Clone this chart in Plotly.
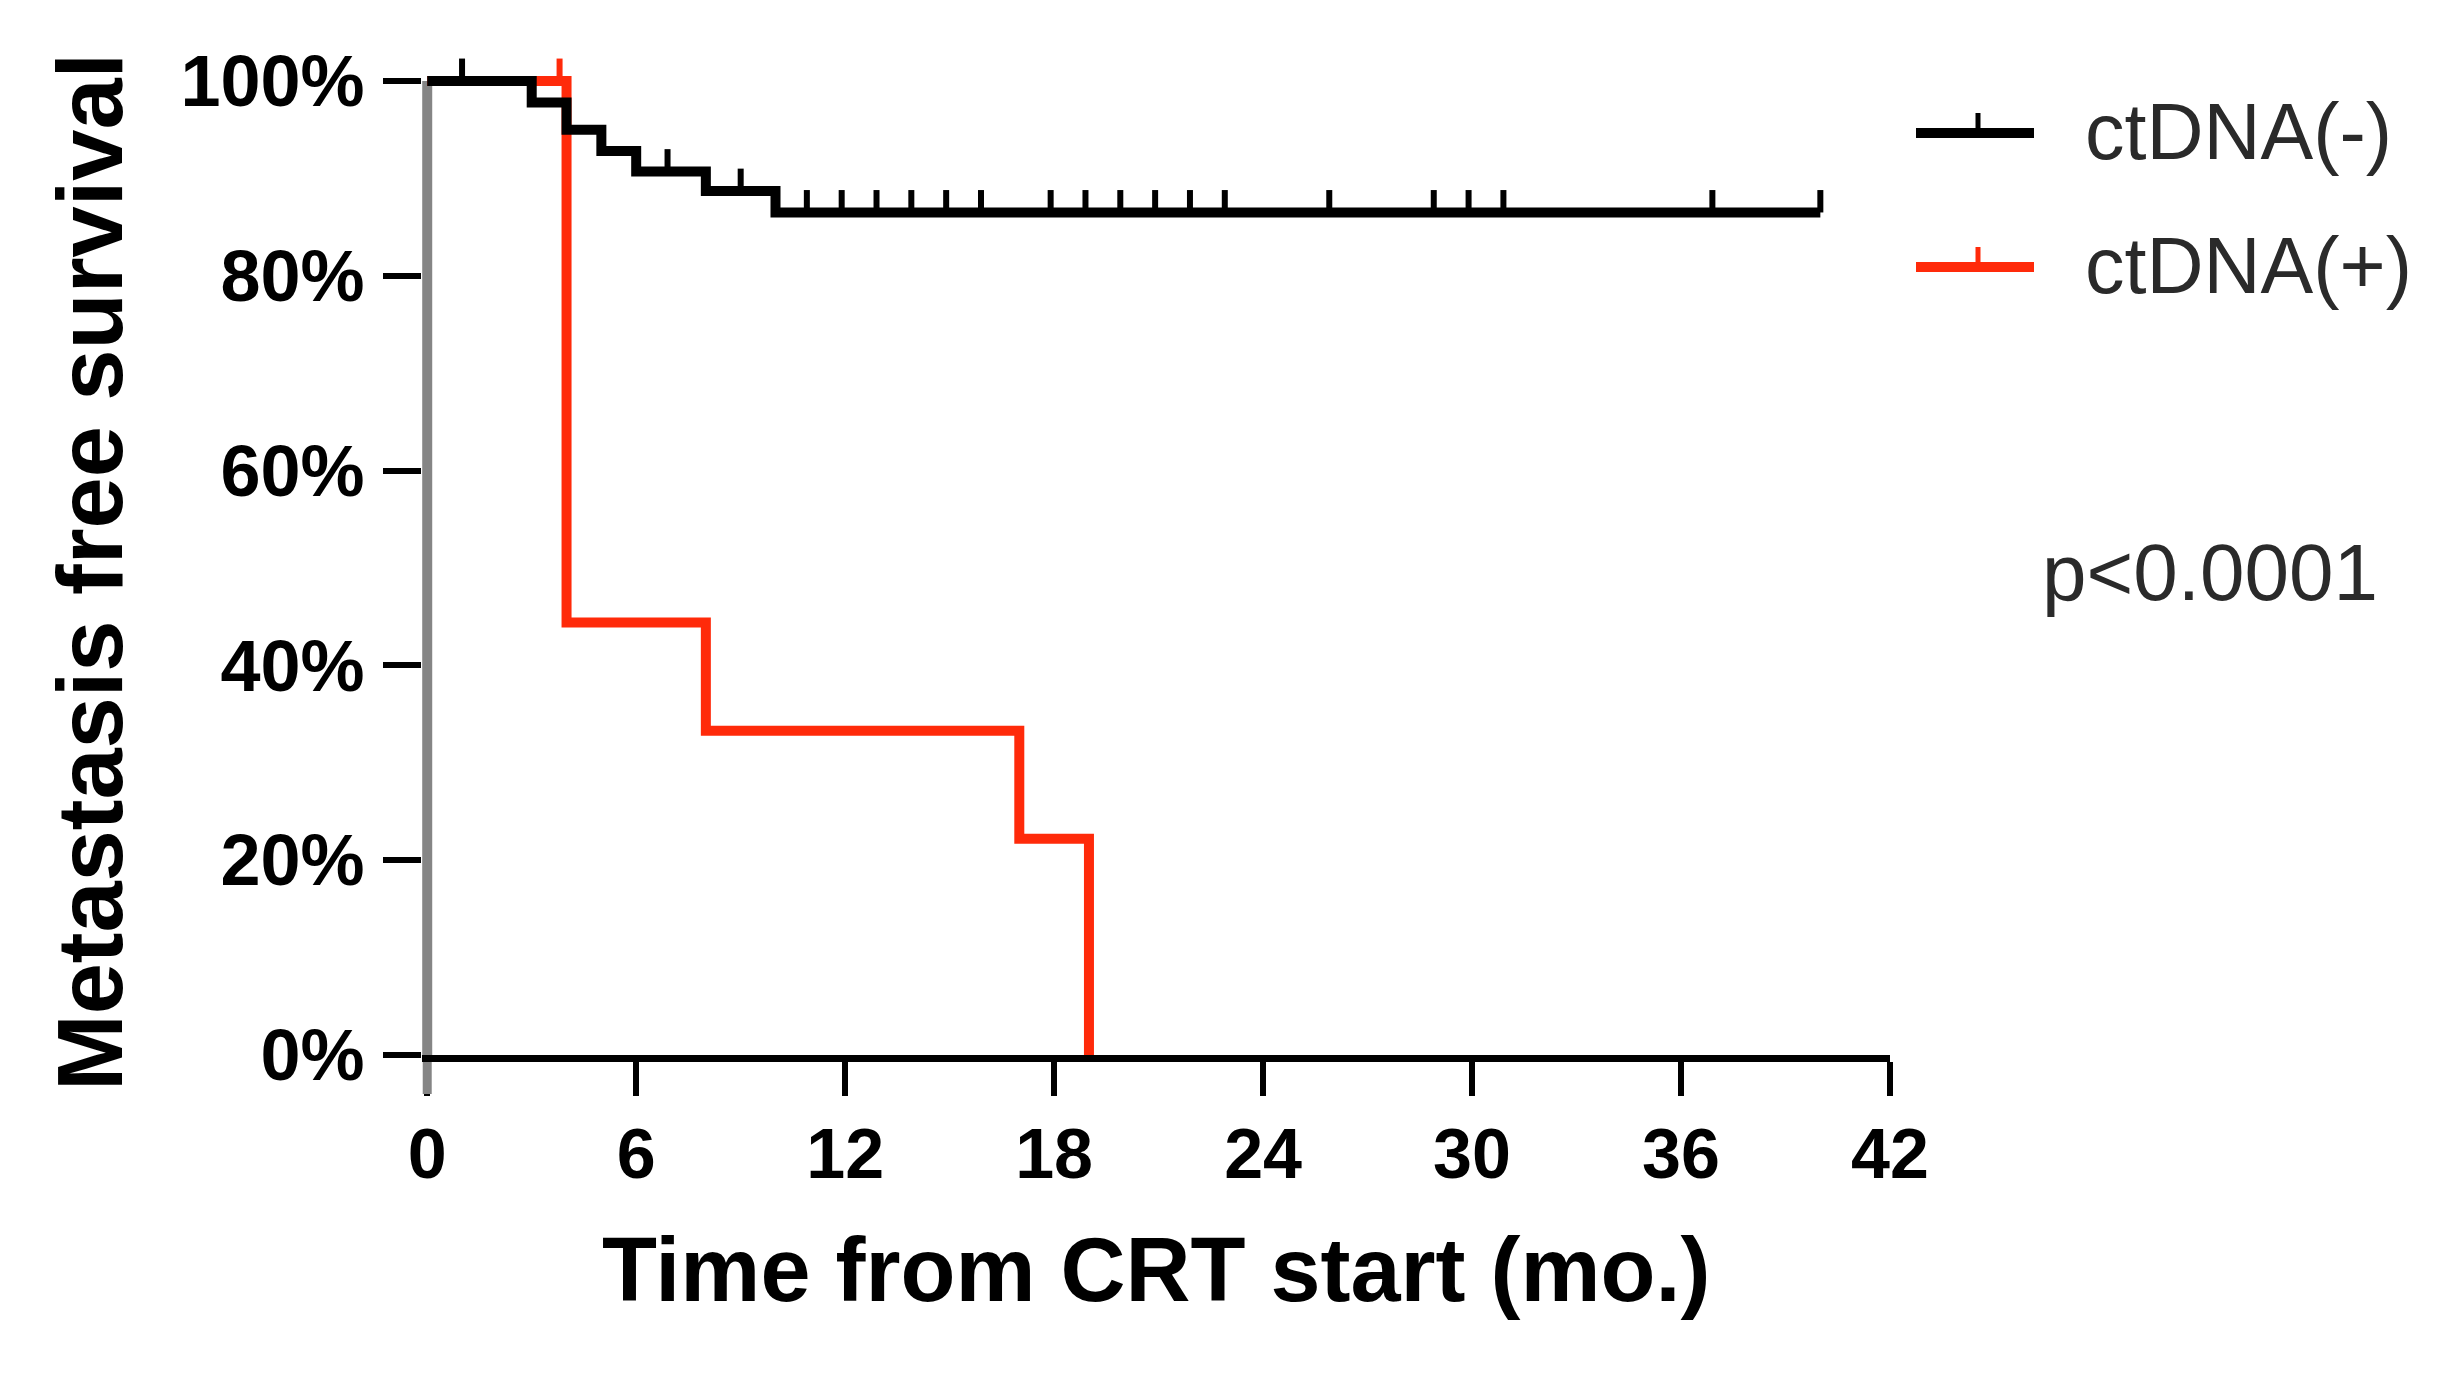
import numpy as np
import plotly.graph_objects as go

# ---------------- data ----------------
neg_name = "ctDNA(-)"
neg_time = [0, 3, 4, 5, 6, 8, 10, 40]
neg_surv = [100, 97.8, 95.0, 92.8, 90.7, 88.7, 86.5, 86.5]
neg_censor = [1.0, 6.9, 9.0, 10.9, 11.9, 12.9, 13.9, 14.9, 15.9, 17.9, 18.9,
              19.9, 20.9, 21.9, 22.9, 25.9, 28.9, 29.9, 30.9, 36.9, 40.0]

pos_name = "ctDNA(+)"
pos_time = [0, 4, 8, 17, 19]
pos_surv = [100, 44.4, 33.3, 22.2, 0]
pos_censor = [3.8]

x_ticks = [0, 6, 12, 18, 24, 30, 36, 42]
y_ticks = [0, 20, 40, 60, 80, 100]
y_tick_labels = ["0%", "20%", "40%", "60%", "80%", "100%"]
p_text = "p<0.0001"
x_title = "Time from CRT start (mo.)"
y_title = "Metastasis free survival"

# ---------------- styling / geometry ----------------
W, H = 2440, 1373
OFF = 8  # page body margin offset
# target page-pixel geometry of the plot area
PL, PR, PT, PB = 422, 1890, 42, 1055
L, R, T, B = PL - OFF, PR - OFF, PT - OFF, PB - OFF
BLACK = "#000000"
RED = "#ff2a0a"
GRAY = "#858585"
FONT = "Liberation Sans, Arial, sans-serif"
CENSOR_H = 2.3  # censor tick height in % units


def px(x):
    return (x - PL) / (PR - PL)


def py(y):
    return (PB - y) / (PB - PT)


def step_value(times, surv, t):
    idx = np.searchsorted(np.asarray(times), t, side="right") - 1
    return np.asarray(surv)[idx]


def censor_segments(times, surv, cens):
    xs, ys = [], []
    for c in cens:
        s = float(step_value(times, surv, c))
        xs += [c, c, None]
        ys += [s, s + CENSOR_H, None]
    return xs, ys


fig = go.Figure()

# y-axis line (gray), drawn through the axes
fig.add_trace(go.Scatter(x=[0, 0], y=[0, 100], mode="lines",
                         line=dict(color=GRAY, width=10),
                         showlegend=False, hoverinfo="skip"))

for times, surv, cens, color, name in [
    (pos_time, pos_surv, pos_censor, RED, pos_name),
    (neg_time, neg_surv, neg_censor, BLACK, neg_name),
]:
    fig.add_trace(go.Scatter(x=times, y=surv, mode="lines", name=name,
                             line=dict(color=color, width=10, shape="hv"),
                             showlegend=False))
    cx, cy = censor_segments(times, surv, cens)
    fig.add_trace(go.Scatter(x=cx, y=cy, mode="lines",
                             line=dict(color=color, width=6),
                             showlegend=False, hoverinfo="skip"))

shapes = []
annotations = []

# gray continuation of the y-axis below the x-axis (at x = 0)
shapes.append(dict(type="line", xref="x", yref="paper", x0=0, x1=0,
                   y0=py(1062), y1=py(1094), layer="above",
                   line=dict(color=GRAY, width=9)))

# ---------------- manual legend ----------------
for (ly, color, name) in [(133, BLACK, neg_name), (267, RED, pos_name)]:
    shapes.append(dict(type="line", xref="paper", yref="paper",
                       x0=px(1916), x1=px(2034), y0=py(ly), y1=py(ly),
                       line=dict(color=color, width=10)))
    shapes.append(dict(type="line", xref="paper", yref="paper",
                       x0=px(1978), x1=px(1978), y0=py(ly), y1=py(ly - 20),
                       line=dict(color=color, width=5)))
    annotations.append(dict(xref="paper", yref="paper", x=px(2083), y=py(ly - 2),
                            text=name, showarrow=False, xanchor="left",
                            yanchor="middle",
                            font=dict(family=FONT, size=79, color="#2a2a2a")))

annotations.append(dict(xref="paper", yref="paper", x=px(2040), y=py(572),
                        text=p_text, showarrow=False, xanchor="left",
                        yanchor="middle",
                        font=dict(family=FONT, size=80, color="#2a2a2a")))

annotations.append(dict(xref="paper", yref="paper", x=px(1156), y=py(1270),
                        text=x_title, showarrow=False, xanchor="center",
                        yanchor="middle",
                        font=dict(family=FONT, size=90, color=BLACK, weight="bold")))

annotations.append(dict(xref="paper", yref="paper", x=px(90), y=py(572),
                        text=y_title, showarrow=False, textangle=-90,
                        xanchor="center", yanchor="middle",
                        font=dict(family=FONT, size=92, color=BLACK, weight="bold")))

fig.update_layout(
    width=W, height=H,
    margin=dict(l=L, r=W - R, t=T, b=H - B, pad=0, autoexpand=False),
    paper_bgcolor="white", plot_bgcolor="white",
    shapes=shapes, annotations=annotations,
    showlegend=False,
    xaxis=dict(range=[-0.15, 42], tickvals=x_ticks, ticktext=[str(v) for v in x_ticks],
               showline=True, linecolor=BLACK, linewidth=7, automargin=False,
               ticks="outside", ticklen=34, tickwidth=6, tickcolor=BLACK,
               showgrid=False, zeroline=False, ticklabelstandoff=-2,
               tickfont=dict(family=FONT, size=70, color=BLACK, weight="bold")),
    yaxis=dict(range=[0, 104], tickvals=y_ticks, ticktext=y_tick_labels,
               showline=False, ticks="outside", ticklen=38, tickwidth=6,
               tickcolor=BLACK, showgrid=False, zeroline=False, automargin=False,
               ticklabelstandoff=4,
               tickfont=dict(family=FONT, size=72, color=BLACK, weight="bold")),
)

fig.write_html("out.html")
